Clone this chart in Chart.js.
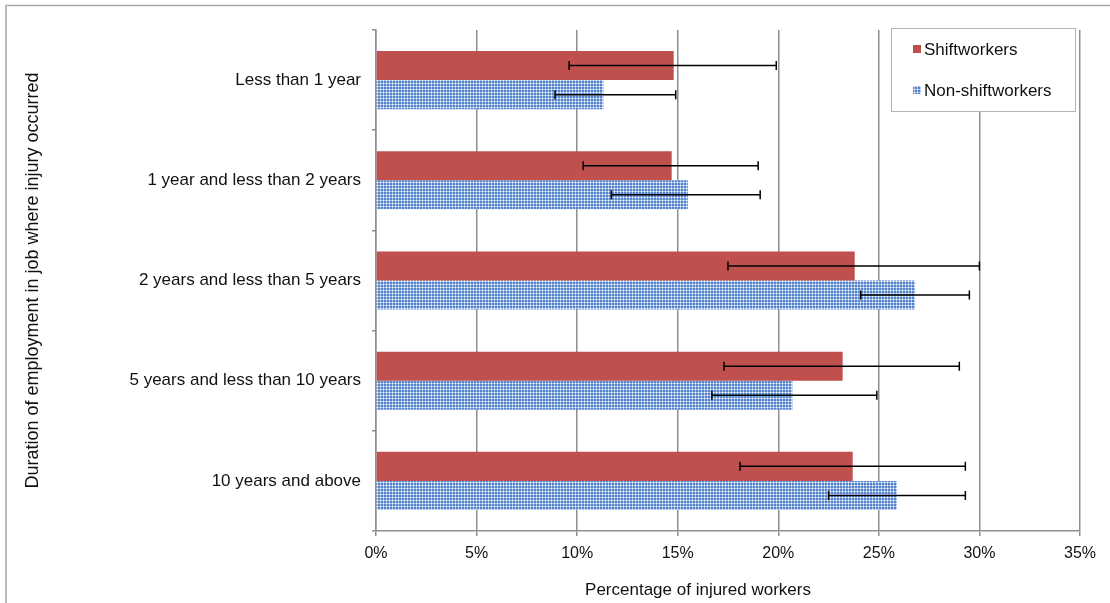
<!DOCTYPE html>
<html>
<head>
<meta charset="utf-8">
<script src="https://cdn.jsdelivr.net/npm/chart.js@4.4.1/dist/chart.umd.min.js"></script>
<style>
  html, body { margin: 0; padding: 0; background: #fff; }
  #wrap { width: 1110px; height: 603px; position: relative; }
</style>
</head>
<body>
<div id="wrap"><canvas id="chart"></canvas></div>
<script>
const categories = [
  'Less than 1 year',
  '1 year and less than 2 years',
  '2 years and less than 5 years',
  '5 years and less than 10 years',
  '10 years and above'
];

// percent values
const shiftValues = [14.8, 14.7, 23.8, 23.2, 23.7];
const shiftLow = [9.6, 10.3, 17.5, 17.3, 18.1];
const shiftHigh = [19.9, 19.0, 30.0, 29.0, 29.3];

const nonShiftValues = [11.3, 15.5, 26.8, 20.7, 25.9];
const nonShiftLow = [8.9, 11.7, 24.1, 16.7, 22.5];
const nonShiftHigh = [14.9, 19.1, 29.5, 24.9, 29.3];

const xTicks = [0, 5, 10, 15, 20, 25, 30, 35];

const FONT = '"Liberation Sans", Arial, sans-serif';
const RED = '#C0504D';
const GRID = '#8e8e8e';

function dotPattern() {
  const c = document.createElement('canvas');
  c.width = 3; c.height = 3;
  const g = c.getContext('2d');
  g.fillStyle = '#5786cc';
  g.fillRect(0, 0, 3, 3);
  g.fillStyle = '#a6c0e8';
  g.fillRect(2, 0, 1, 3);
  g.fillRect(0, 2, 3, 1);
  g.fillStyle = '#ffffff';
  g.fillRect(2, 2, 1, 1);
  return g.createPattern(c, 'repeat');
}
const BLUE = dotPattern();

const errorBars = {
  id: 'errorBars',
  afterDatasetsDraw(chart) {
    const ctx = chart.ctx;
    const xs = chart.scales.x;
    ctx.save();
    ctx.strokeStyle = '#000';
    ctx.lineWidth = 1.5;
    chart.data.datasets.forEach((ds, i) => {
      const meta = chart.getDatasetMeta(i);
      meta.data.forEach((bar, j) => {
        const y = bar.y;
        const x1 = xs.getPixelForValue(ds.errLow[j]);
        const x2 = xs.getPixelForValue(ds.errHigh[j]);
        ctx.beginPath();
        ctx.moveTo(x1, y); ctx.lineTo(x2, y);
        ctx.moveTo(x1, y - 4.5); ctx.lineTo(x1, y + 4.5);
        ctx.moveTo(x2, y - 4.5); ctx.lineTo(x2, y + 4.5);
        ctx.stroke();
      });
    });
    ctx.restore();
  }
};

const frame = {
  id: 'frame',
  beforeDraw(chart) {
    const ctx = chart.ctx;
    ctx.save();
    ctx.fillStyle = '#fff';
    ctx.fillRect(0, 0, chart.width, chart.height);
    ctx.strokeStyle = '#a6a6a6';
    ctx.lineWidth = 1.5;
    ctx.strokeRect(6, 5.5, chart.width - 4, chart.height + 50);
    ctx.restore();
  },
  afterDraw(chart) {
    const ctx = chart.ctx;
    const a = chart.chartArea;
    ctx.save();
    // x axis title
    ctx.font = '17px ' + FONT;
    ctx.fillStyle = '#111';
    ctx.textAlign = 'center';
    ctx.textBaseline = 'middle';
    ctx.fillText('Percentage of injured workers', (a.left + a.right) / 2 - 30, 590);
    // legend box
    const bx = a.right - 189, by = a.top - 2, bw = 184, bh = 83;
    ctx.fillStyle = '#fff';
    ctx.fillRect(bx, by, bw, bh);
    ctx.strokeStyle = '#b3b3b3';
    ctx.lineWidth = 1;
    ctx.strokeRect(bx + 0.5, by + 0.5, bw, bh);
    ctx.textAlign = 'left';
    chart.data.datasets.forEach((ds, i) => {
      const cy = by + 21 + i * 41;
      ctx.fillStyle = ds.backgroundColor;
      ctx.fillRect(bx + 22, cy - 4, 8, 8);
      ctx.fillStyle = '#111';
      ctx.fillText(ds.label, bx + 33, cy + 1);
    });
    ctx.restore();
  }
};

new Chart(document.getElementById('chart'), {
  type: 'bar',
  data: {
    labels: categories,
    datasets: [
      {
        label: 'Shiftworkers',
        data: shiftValues,
        errLow: shiftLow,
        errHigh: shiftHigh,
        backgroundColor: RED,
        categoryPercentage: 0.58,
        barPercentage: 1.0
      },
      {
        label: 'Non-shiftworkers',
        data: nonShiftValues,
        errLow: nonShiftLow,
        errHigh: nonShiftHigh,
        backgroundColor: BLUE,
        categoryPercentage: 0.58,
        barPercentage: 1.0
      }
    ]
  },
  options: {
    indexAxis: 'y',
    responsive: true,
    maintainAspectRatio: false,
    animation: false,
    layout: { padding: { left: 6, right: 30, top: 30, bottom: 0 } },
    plugins: {
      legend: { display: false },
      tooltip: { enabled: false }
    },
    scales: {
      x: {
        min: 0,
        max: 35,
        afterBuildTicks(scale) {
          scale.ticks = xTicks.map(v => ({ value: v }));
        },
        afterFit(scale) { scale.height = 72; },
        grid: {
          color: GRID,
          lineWidth: 1.5,
          tickLength: 5,
          drawOnChartArea: true
        },
        border: { color: GRID, width: 1.5 },
        ticks: {
          color: '#111',
          font: { family: FONT, size: 16 },
          padding: 8,
          maxRotation: 0,
          callback: v => v + '%'
        }
      },
      y: {
        afterFit(scale) { scale.width = 370; },
        grid: {
          offset: true,
          drawOnChartArea: false,
          color: GRID,
          lineWidth: 1.5,
          tickLength: 4
        },
        border: { color: GRID, width: 1.5 },
        ticks: {
          color: '#111',
          font: { family: FONT, size: 17 },
          padding: 11
        },
        title: {
          display: true,
          text: 'Duration of employment in job where injury occurred',
          color: '#111',
          font: { family: FONT, size: 18 },
          padding: { top: 16, bottom: 0 }
        }
      }
    }
  },
  plugins: [frame, errorBars]
});
</script>
</body>
</html>
